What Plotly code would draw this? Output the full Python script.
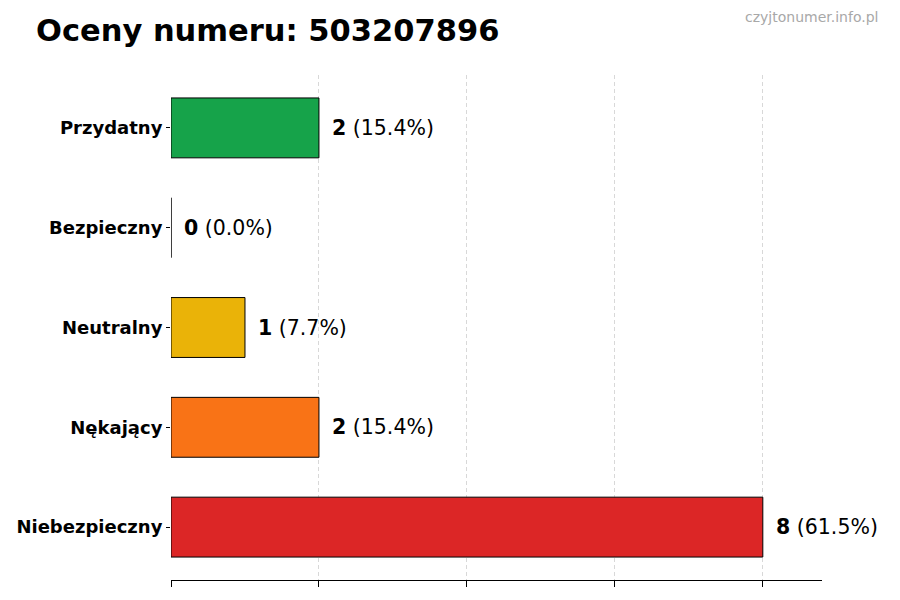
import plotly.graph_objects as go

categories = ["Niebezpieczny", "Nękający", "Neutralny", "Bezpieczny", "Przydatny"]
counts = [8, 2, 1, 0, 2]
colors = ["#dc2626", "#f97316", "#eab308", "#9ca3af", "#16a34a"]
number = "503207896"

total = sum(counts)

fig = go.Figure()
fig.add_trace(go.Bar(
    y=categories, x=counts, orientation="h", width=0.6,
    marker=dict(color=colors, line=dict(color="black", width=1)),
    hoverinfo="skip",
))

# labels next to bars: bold count + percentage
for cat, c in zip(categories, counts):
    pct = c / total * 100
    fig.add_annotation(
        x=c, y=cat, text=f"<b>{c}</b> ({pct:.1f}%)",
        showarrow=False, xanchor="left", xshift=11,
        font=dict(family="DejaVu Sans", size=20.5, color="black"),
    )

fig.add_annotation(
    text=f"<b>Oceny numeru: {number}</b>", xref="paper", yref="paper",
    x=-0.2104, y=1.089, xanchor="left", yanchor="middle", showarrow=False,
    font=dict(family="DejaVu Sans", size=30.5, color="black"),
)
fig.add_annotation(
    text="czyjtonumer.info.pl", xref="paper", yref="paper",
    x=1.089, y=1.115, xanchor="right", yanchor="middle", showarrow=False,
    font=dict(family="DejaVu Sans", size=14, color="#a8a8a8"),
)

# page body adds 8px, so the figure is made 8px smaller
fig.update_layout(
    width=892, height=592,
    margin=dict(l=163, r=78, t=67, b=20, autoexpand=False),
    plot_bgcolor="white", paper_bgcolor="white",
    showlegend=False,
    font=dict(family="DejaVu Sans", color="black"),
)
fig.update_xaxes(
    range=[0, 8.8], tickvals=[0, 2, 4, 6, 8], showticklabels=False,
    ticks="outside", ticklen=6, tickcolor="black",
    showline=True, linecolor="black", linewidth=1,
    showgrid=True, gridcolor="#d8d8d8", griddash="4px,3px", gridwidth=0.8,
    zeroline=False, automargin=False,
)
fig.update_yaxes(
    range=[-0.53, 4.53], categoryorder="array", categoryarray=categories,
    ticks="outside", ticklen=4, tickcolor="black",
    tickfont=dict(family="DejaVu Sans", size=18, color="black", weight="bold"),
    showline=False, showgrid=False, zeroline=False, automargin=False,
)

fig.write_html("out.html")
